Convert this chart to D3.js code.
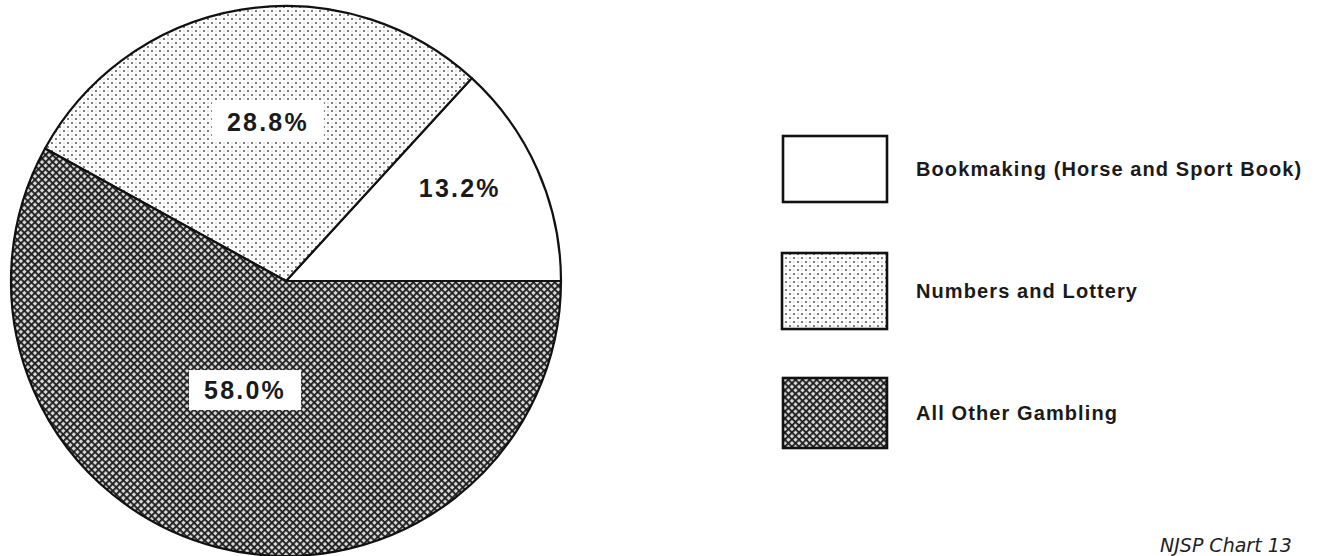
<!DOCTYPE html>
<html><head><meta charset="utf-8">
<script src="https://cdn.jsdelivr.net/npm/d3@7"></script>
<style>html,body{margin:0;padding:0;background:#fff;overflow:hidden}</style>
</head><body>
<svg id="c" width="1326" height="556"></svg>
<script>
const categories = ["Bookmaking (Horse and Sport Book)", "Numbers and Lottery", "All Other Gambling"];
const values = [13.2, 28.8, 58.0];
const valueLabels = ["13.2%", "28.8%", "58.0%"];
const footerText = "NJSP Chart 13";

const svg = d3.select("#c");
const defs = svg.append("defs");

// dotted pattern
const pDot = defs.append("pattern").attr("id","dots").attr("patternUnits","userSpaceOnUse")
  .attr("width",8).attr("height",8);
pDot.append("rect").attr("width",8).attr("height",8).attr("fill","#fff");
pDot.append("circle").attr("cx",2).attr("cy",2).attr("r",0.95).attr("fill","#444");
pDot.append("circle").attr("cx",6).attr("cy",6).attr("r",0.95).attr("fill","#444");
pDot.append("circle").attr("cx",6).attr("cy",2).attr("r",0.6).attr("fill","#999");
pDot.append("circle").attr("cx",2).attr("cy",6).attr("r",0.6).attr("fill","#999");

// crosshatch pattern
const pX = defs.append("pattern").attr("id","hatch").attr("patternUnits","userSpaceOnUse")
  .attr("width",5).attr("height",5).attr("patternTransform","rotate(45)");
pX.append("rect").attr("width",5).attr("height",5).attr("fill","#d8d8d8");
pX.append("rect").attr("x",0).attr("y",0).attr("width",5).attr("height",1.8).attr("fill","#1c1c1c");
pX.append("rect").attr("x",0).attr("y",0).attr("width",1.8).attr("height",5).attr("fill","#1c1c1c");

const fills = ["#fff", "url(#dots)", "url(#hatch)"];

const cx = 286, cy = 281, R = 275;
const pie = d3.pie().sort(null).value(d => d).startAngle(Math.PI/2).endAngle(Math.PI/2 - 2*Math.PI);
const arcs = pie(values);
const arc = d3.arc().innerRadius(0).outerRadius(R);

const g = svg.append("g").attr("transform", `translate(${cx},${cy})`);
g.selectAll("path.slice").data(arcs).join("path").attr("class","slice")
  .attr("d", arc).attr("fill", (d,i) => fills[i])
  .attr("stroke","#111").attr("stroke-width",2.2).attr("stroke-linejoin","round");

// labels
const labelRadius = [197, 160, 116.5];
const labelAngleShift = [-0.076, 0.05, 0.108];
const labelBg = [false, true, true];
const lg = g.selectAll("g.lab").data(arcs).join("g").attr("class","lab")
  .attr("transform", (d,i) => {
    const a = (d.startAngle + d.endAngle)/2 + labelAngleShift[i];
    return `translate(${Math.sin(a)*labelRadius[i]},${-Math.cos(a)*labelRadius[i]})`;
  });
lg.each(function(d,i){
  const s = d3.select(this);
  if (labelBg[i]) s.append("rect").attr("x",-56).attr("y",-20).attr("width",112).attr("height",40).attr("fill","#fff");
  s.append("text").attr("text-anchor","middle").attr("dy","0.36em")
    .attr("font-family","Liberation Sans, Arial, sans-serif").attr("font-weight","bold")
    .attr("font-size",25).attr("letter-spacing",2.2).attr("fill","#1a1a1a")
    .text(valueLabels[i]);
});

// legend
const legBoxes = [[783,136,104,66],[782,253,105,76],[783,378,104,70]];
const leg = svg.append("g");
categories.forEach((c,i) => {
  const [x,y,w,h] = legBoxes[i];
  leg.append("rect").attr("x",x).attr("y",y).attr("width",w).attr("height",h)
    .attr("fill",fills[i]).attr("stroke","#111").attr("stroke-width",2.6);
  leg.append("text").attr("x",916).attr("y",y+h/2).attr("dy","0.36em")
    .attr("font-family","Liberation Sans, Arial, sans-serif").attr("font-weight","bold")
    .attr("font-size",20).attr("letter-spacing",1.1).attr("fill","#1a1a1a").text(c);
});

svg.append("text").attr("x",1160).attr("y",552)
  .attr("font-family","DejaVu Sans, sans-serif").attr("font-style","italic")
  .attr("font-size",19).attr("fill","#222").text(footerText);
</script>
</body></html>
